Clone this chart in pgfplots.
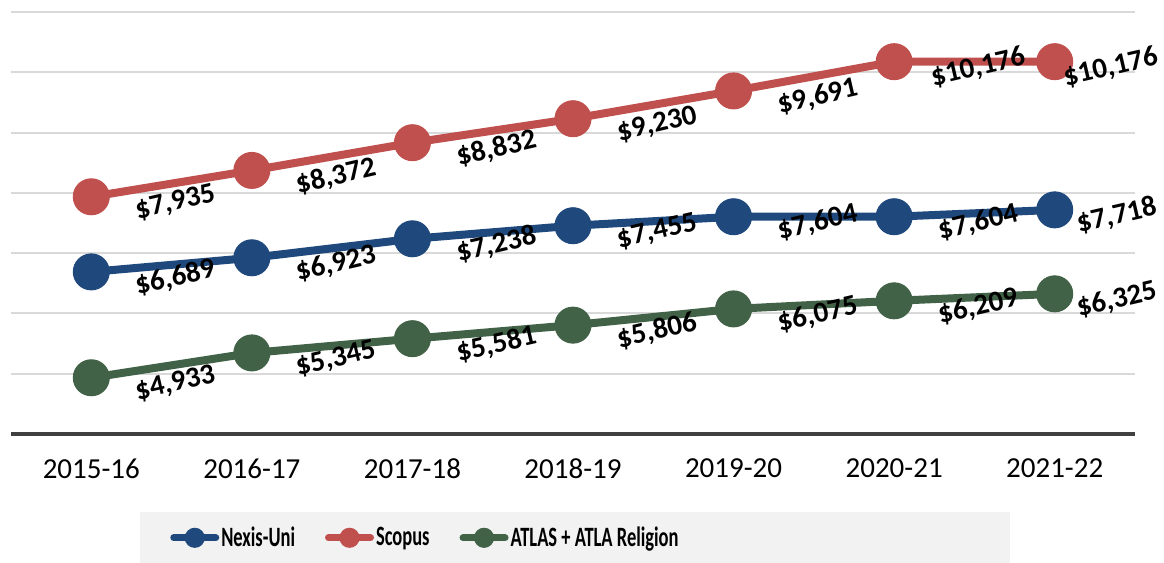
\documentclass[border=0pt]{standalone}
\usepackage{fontspec}
\setmainfont{Carlito}
\newfontfamily\legfont[FakeStretch=0.66]{Carlito}
\usepackage{pgfplots}
\usepackage{pgfplotstable}
\pgfplotsset{compat=1.18}
\definecolor{nexisc}{RGB}{31,73,125}
\definecolor{scopusc}{RGB}{192,80,77}
\definecolor{atlasc}{RGB}{65,98,70}
\definecolor{gridc}{RGB}{217,217,217}
\definecolor{axisc}{RGB}{64,64,64}
\definecolor{legbg}{RGB}{242,242,242}

% x, value, label shift (pt)
\pgfplotstableread{
x y dx
0 6689 42
1 6923 42
2 7238 42
3 7455 42
4 7604 42
5 7604 42
6 7718 31
}\nexis
\pgfplotstableread{
x y dx
0 7935 42
1 8372 42
2 8832 42
3 9230 42
4 9691 42
5 10176 42
6 10176 28
}\scopus
\pgfplotstableread{
x y dx
0 4933 42
1 5345 42
2 5581 42
3 5806 42
4 6075 42
5 6209 42
6 6325 31
}\atlas

\begin{document}
\begin{tikzpicture}
\useasboundingbox (-5.5pt,-64.5pt) rectangle (576.5pt,217pt);
\fill[legbg] (64.5pt,-39pt) rectangle (499.5pt,-64.5pt);
\begin{axis}[at={(0,0)}, anchor=south west, scale only axis,
  width=562pt, height=211pt, clip=false,
  xmin=-0.5, xmax=6.5, ymin=4000, ymax=11000,
  xtick={0,...,6},
  xticklabels={2015-16,2016-17,2017-18,2018-19,2019-20,2020-21,2021-22},
  ytick={5000,6000,...,11000}, yticklabel=\empty,
  ymajorgrids, grid style={gridc, line width=1pt},
  axis x line*=bottom, axis y line*=left,
  x axis line style={axisc, line width=2pt, -},
  y axis line style={draw=none},
  major tick length=0pt,
  xticklabel style={font=\fontsize{14.5}{17}\selectfont, anchor=north, yshift=-9pt},
  /pgf/number format/fixed, /pgf/number format/precision=0,
  /pgf/number format/1000 sep={,}, /pgf/number format/assume math mode=true,
  every axis plot/.append style={line width=4pt, mark=*, mark size=9pt,
    mark options={line width=0.5pt}},
  visualization depends on={\thisrow{dx} \as \dx},
  nodes near coords={\$\pgfmathprintnumber{\pgfplotspointmeta}},
  every node near coord/.append style={font=\bfseries\fontsize{14.5}{17}\selectfont,
    text=black, anchor=center, xshift=\dx pt, yshift=-3pt, rotate=13},
  legend columns=-1, legend cell align=left,
  legend style={at={(0.136,-0.246)}, anchor=west, draw=none, fill=none,
    font=\legfont\bfseries\fontsize{14}{16}\selectfont,
    nodes={inner xsep=1pt},
    /tikz/every even column/.append style={column sep=14pt}},
  legend image code/.code={
    \draw[#1, mark=none, line width=3.5pt, line cap=round] (0pt,0pt) -- (21pt,0pt);
    \fill[#1] (10.5pt,0pt) circle (3pt);},
]
\addplot[color=nexisc, point meta=\thisrow{y}] table[x=x, y=y] {\nexis};
\addplot[color=scopusc, point meta=\thisrow{y}] table[x=x, y=y] {\scopus};
\addplot[color=atlasc, point meta=\thisrow{y}] table[x=x, y=y] {\atlas};
\legend{Nexis-Uni, Scopus, ATLAS + ATLA Religion}
\end{axis}
\end{tikzpicture}
\end{document}
